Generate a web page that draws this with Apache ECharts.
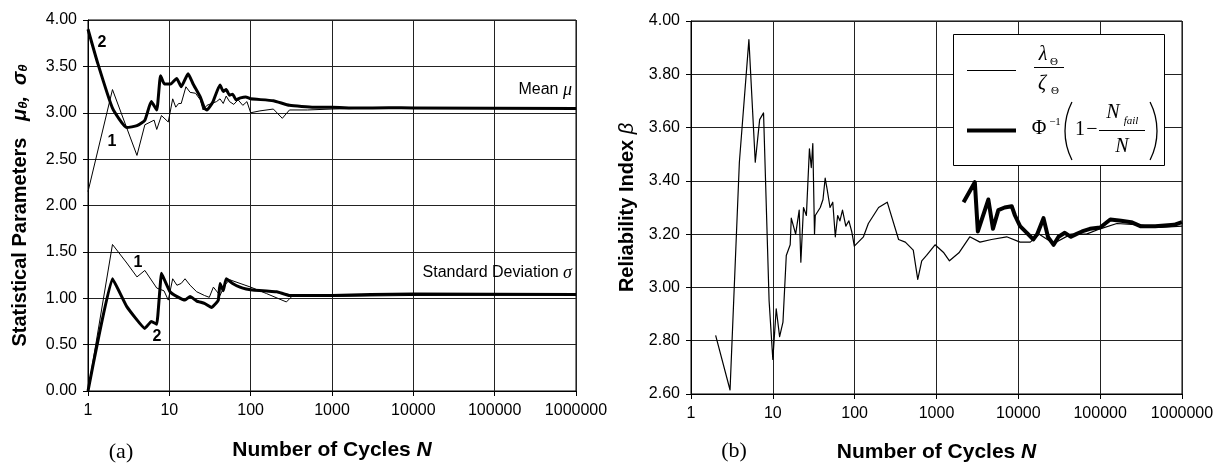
<!DOCTYPE html>
<html><head><meta charset="utf-8">
<script src="https://cdn.jsdelivr.net/npm/echarts@6/dist/echarts.min.js"></script>
<style>html,body{margin:0;padding:0;background:#fff}#c{width:1224px;height:468px}</style>
</head><body><div id="c"></div>
<script>
// ---------- Data ----------
// (a) Mean, curve 1 (thin)
const meanThinN = [1, 2, 4, 5, 6.5, 7, 8, 9.7, 11, 12, 13, 14, 16, 18, 21, 24, 26, 29, 33, 38, 42, 46, 50, 55, 62, 70, 80, 90, 100, 130, 190, 245, 300, 500, 1000, 3000, 10000, 1000000];
const meanThinV = [2.15, 3.25, 2.54, 2.87, 2.92, 2.82, 2.97, 2.90, 3.15, 3.06, 3.10, 3.10, 3.28, 3.22, 3.21, 3.14, 3.03, 3.08, 3.10, 3.12, 3.15, 3.10, 3.18, 3.12, 3.09, 3.14, 3.08, 3.12, 3.00, 3.02, 3.04, 2.94, 3.03, 3.03, 3.04, 3.05, 3.05, 3.045];
// (a) Mean, curve 2 (thick)
const meanThickN = [1, 1.3, 2, 3, 4, 5, 6, 7, 7.8, 8.7, 10.4, 12.3, 14, 17, 19.6, 24, 27, 29, 34, 42, 46, 50, 55, 60, 66, 75, 87, 100, 190, 300, 600, 1000, 2000, 5000, 10000, 1000000];
const meanThickV = [3.90, 3.55, 3.05, 2.84, 2.86, 2.92, 3.12, 3.03, 3.40, 3.31, 3.31, 3.37, 3.28, 3.42, 3.31, 3.17, 3.05, 3.03, 3.11, 3.30, 3.23, 3.25, 3.19, 3.20, 3.14, 3.16, 3.17, 3.15, 3.13, 3.08, 3.06, 3.06, 3.05, 3.055, 3.05, 3.045];
// (a) Standard deviation, curve 1 (thin)
const sdThinN = [1, 2, 3, 4, 5, 7, 8.6, 9.7, 11, 12.4, 14, 15.6, 18, 21.7, 27, 31, 34.8, 42, 48, 55, 74, 100, 157, 275, 330, 1000, 10000, 1000000];
const sdThinV = [0, 1.58, 1.38, 1.23, 1.30, 1.11, 1.08, 0.98, 1.21, 1.14, 1.16, 1.21, 1.14, 1.07, 1.03, 1.01, 1.12, 1.03, 1.14, 1.20, 1.16, 1.12, 1.05, 0.96, 1.03, 1.02, 1.03, 1.035];
// (a) Standard deviation, curve 2 (thick)
const sdThickN = [1, 2, 3, 5, 6, 7, 8, 8.8, 10.2, 12.3, 15.6, 18, 21.7, 27, 33, 36, 40, 42, 46, 50, 60, 74, 88, 105, 210, 300, 1000, 3000, 10000, 1000000];
const sdThickV = [0, 1.21, 0.91, 0.675, 0.75, 0.72, 1.27, 1.19, 1.07, 1.02, 0.98, 1.02, 0.97, 0.945, 0.90, 0.93, 0.98, 1.16, 1.08, 1.21, 1.16, 1.12, 1.10, 1.09, 1.07, 1.03, 1.03, 1.04, 1.045, 1.04];
// (b) beta = lambda/zeta (thin)
const betaThinN = [2, 3, 3.9, 5.1, 6.1, 6.9, 7.7, 9, 10, 11, 12.1, 13.3, 14.6, 16.3, 16.8, 19, 21, 22, 23.7, 25.7, 28, 29.5, 30.8, 32.3, 33, 38, 41, 43.6, 46, 50, 54, 58, 62, 66, 71, 78, 85, 92, 99, 128, 147, 196, 250, 344, 416, 520, 590, 660, 756, 960, 1230, 1440, 1880, 2550, 3400, 4700, 7200, 10500, 14000, 18000, 27000, 44000, 68000, 100000, 160000, 300000, 540000, 1000000];
const betaThinV = [2.82, 2.615, 3.47, 3.93, 3.47, 3.63, 3.655, 2.95, 2.73, 2.92, 2.815, 2.87, 3.12, 3.16, 3.26, 3.20, 3.29, 3.095, 3.30, 3.27, 3.52, 3.45, 3.54, 3.20, 3.27, 3.30, 3.33, 3.41, 3.37, 3.30, 3.32, 3.19, 3.27, 3.25, 3.29, 3.23, 3.25, 3.21, 3.155, 3.19, 3.24, 3.30, 3.32, 3.18, 3.17, 3.14, 3.03, 3.10, 3.12, 3.16, 3.13, 3.10, 3.13, 3.19, 3.17, 3.18, 3.19, 3.17, 3.17, 3.20, 3.165, 3.20, 3.20, 3.22, 3.24, 3.235, 3.225, 3.23];
// (b) beta = Phi^-1(1 - Nfail/N) (thick)
const betaThickN = [2140, 2940, 3200, 4300, 4900, 5700, 6800, 8300, 9100, 10500, 12700, 15200, 17000, 20300, 23000, 27000, 31000, 37000, 44000, 51000, 60000, 75000, 100000, 133000, 180000, 240000, 310000, 470000, 800000, 1000000];
const betaThickV = [3.32, 3.395, 3.21, 3.33, 3.22, 3.29, 3.30, 3.305, 3.27, 3.23, 3.205, 3.18, 3.20, 3.26, 3.19, 3.16, 3.19, 3.205, 3.19, 3.20, 3.21, 3.22, 3.225, 3.255, 3.25, 3.245, 3.23, 3.23, 3.235, 3.245];
// Tick labels
const xTickLabels = ['1', '10', '100', '1000', '10000', '100000', '1000000'];
const yTicksA = [0, 0.5, 1, 1.5, 2, 2.5, 3, 3.5, 4];
const yTicksB = [2.6, 2.8, 3.0, 3.2, 3.4, 3.6, 3.8, 4.0];

const zip = (a, b) => a.map((x, i) => [x, b[i]]);
const SANS = 'Liberation Sans', SERIF = 'Liberation Serif';

function xAxis(gi, gap) {
  return {
    type: 'log', logBase: 10, min: 1, max: 1000000, gridIndex: gi, splitNumber: 6,
    axisLine: { show: true, lineStyle: { color: '#000', width: 1 } },
    axisTick: { show: true, length: 5, inside: false, lineStyle: { color: '#000' } },
    minorTick: { show: false }, minorSplitLine: { show: false },
    axisLabel: { fontSize: 16, color: '#000', fontFamily: SANS, margin: 12,
      formatter: v => xTickLabels[Math.round(Math.log10(v))] },
    splitLine: { show: true, lineStyle: { color: '#222', width: 1 } },
    name: '{b|Number of Cycles }{i|N}', nameLocation: 'middle', nameGap: gap,
    nameTextStyle: { rich: {
      b: { fontSize: 21, fontWeight: 'bold', fontFamily: SANS, color: '#000' },
      i: { fontSize: 21, fontWeight: 'bold', fontStyle: 'italic', fontFamily: SANS, color: '#000' } } }
  };
}
function yAxis(gi, ticks, name, gap, rich) {
  return {
    type: 'value', gridIndex: gi, min: ticks[0], max: ticks[ticks.length - 1],
    interval: ticks[1] - ticks[0],
    axisLine: { show: true, lineStyle: { color: '#000', width: 1 } },
    axisTick: { show: true, length: 5, lineStyle: { color: '#000' } },
    axisLabel: { fontSize: 16, color: '#000', fontFamily: SANS, margin: 11, formatter: v => v.toFixed(2) },
    splitLine: { show: true, lineStyle: { color: '#222', width: 1 } },
    name: name, nameLocation: 'middle', nameGap: gap,
    nameTextStyle: { rich: rich }
  };
}
function line(xi, data, w, smooth) {
  return { type: 'line', xAxisIndex: xi, yAxisIndex: xi, data: data, showSymbol: false, symbol: 'none',
    smooth: smooth || false, lineStyle: { color: '#000', width: w, join: 'round' }, silent: true, animation: false, z: 3 };
}
const boldR = { fontSize: 20, fontWeight: 'bold', fontFamily: SANS, color: '#000' };
const chart = echarts.init(document.getElementById('c'), null, { renderer: 'canvas' });

const t = (x, y, text, o) => ({ type: 'text', x: x, y: y, z: 100,
  style: Object.assign({ text: text, fill: '#000', align: 'center', verticalAlign: 'middle',
    fontFamily: SERIF, fontSize: 20 }, o || {}) });
// parenthesis drawn as a thin arc
const paren = (cx, cy, r, a0, a1) => ({ type: 'arc', z: 100,
  shape: { cx: cx, cy: cy, r: r, startAngle: a0, endAngle: a1, clockwise: true },
  style: { stroke: '#000', fill: null, lineWidth: 1.3 } });

chart.setOption({
  animation: false,
  backgroundColor: '#fff',
  grid: [
    { left: 88, right: 648, top: 20, bottom: 77, show: true, borderColor: '#000', borderWidth: 1 },
    { left: 691, right: 42, top: 21, bottom: 73, show: true, borderColor: '#000', borderWidth: 1 }
  ],
  xAxis: [xAxis(0, 49), xAxis(1, 48)],
  yAxis: [
    yAxis(0, yTicksA, '{b|Statistical Parameters   }{g|μ}{s|θ}{g|,  σ}{s|θ}', 58,
      { b: boldR, g: { fontSize: 20, fontWeight: 'bold', fontStyle: 'italic', fontFamily: SANS, color: '#000' },
        s: { fontSize: 13, fontWeight: 'bold', fontStyle: 'italic', fontFamily: SANS, color: '#000', verticalAlign: 'bottom', lineHeight: 20 } }),
    yAxis(1, yTicksB, '{b|Reliability Index }{g|β}', 54,
      { b: boldR, g: { fontSize: 20, fontStyle: 'italic', fontFamily: SANS, color: '#000' } })
  ],
  series: [
    line(0, zip(meanThinN, meanThinV), 1),
    line(0, zip(meanThickN, meanThickV), 3, 0.15),
    line(0, zip(sdThinN, sdThinV), 1),
    line(0, zip(sdThickN, sdThickV), 3, 0.1),
    line(1, zip(betaThinN, betaThinV), 1.2),
    line(1, zip(betaThickN, betaThickV), 4)
  ],
  graphic: [
    // curve labels (a)
    t(102, 43, '2', { fontFamily: SANS, fontWeight: 'bold', fontSize: 16 }),
    t(112, 142, '1', { fontFamily: SANS, fontWeight: 'bold', fontSize: 16 }),
    t(138, 263, '1', { fontFamily: SANS, fontWeight: 'bold', fontSize: 16 }),
    t(157, 337, '2', { fontFamily: SANS, fontWeight: 'bold', fontSize: 16 }),
    { type: 'text', x: 572, y: 90, z: 100, style: { text: '{a|Mean }{g|μ}', align: 'right', verticalAlign: 'middle',
      rich: { a: { fontFamily: SANS, fontSize: 16, fill: '#000' }, g: { fontFamily: SERIF, fontStyle: 'italic', fontSize: 18, fill: '#000' } } } },
    { type: 'text', x: 572, y: 273, z: 100, style: { text: '{a|Standard Deviation }{g|σ}', align: 'right', verticalAlign: 'middle',
      rich: { a: { fontFamily: SANS, fontSize: 16, fill: '#000' }, g: { fontFamily: SERIF, fontStyle: 'italic', fontSize: 18, fill: '#000' } } } },
    // panel labels
    t(121, 452, '(a)', { fontSize: 22 }),
    t(734, 451, '(b)', { fontSize: 22 }),
    // legend (b)
    { type: 'rect', z: 99, shape: { x: 953.5, y: 34.5, width: 211, height: 131 }, style: { fill: '#fff', stroke: '#000', lineWidth: 1 } },
    { type: 'line', z: 100, shape: { x1: 967, y1: 70.5, x2: 1016, y2: 70.5 }, style: { stroke: '#000', lineWidth: 1 } },
    { type: 'line', z: 100, shape: { x1: 967, y1: 130.5, x2: 1016, y2: 130.5 }, style: { stroke: '#000', lineWidth: 4 } },
    t(1043, 55, 'λ', { fontStyle: 'italic' }),
    t(1054, 62, 'Θ', { fontSize: 11 }),
    { type: 'line', z: 100, shape: { x1: 1034, y1: 67.5, x2: 1064, y2: 67.5 }, style: { stroke: '#000', lineWidth: 1 } },
    t(1042, 84, 'ζ', { fontStyle: 'italic' }),
    t(1055, 91, 'Θ', { fontSize: 11 }),
    t(1039, 129, 'Φ'),
    t(1055, 122, '−1', { fontSize: 11 }),
    paren(1129, 131, 64, Math.PI - 0.47, Math.PI + 0.47),
    t(1080, 130, '1'),
    t(1092, 130, '−'),
    t(1113, 113, 'N', { fontStyle: 'italic' }),
    t(1131, 121, 'fail', { fontStyle: 'italic', fontSize: 11 }),
    { type: 'line', z: 100, shape: { x1: 1099, y1: 130.5, x2: 1145, y2: 130.5 }, style: { stroke: '#000', lineWidth: 1 } },
    t(1122, 147, 'N', { fontStyle: 'italic' }),
    paren(1093, 131, 64, -0.47, 0.47)
  ]
});
</script></body></html>
